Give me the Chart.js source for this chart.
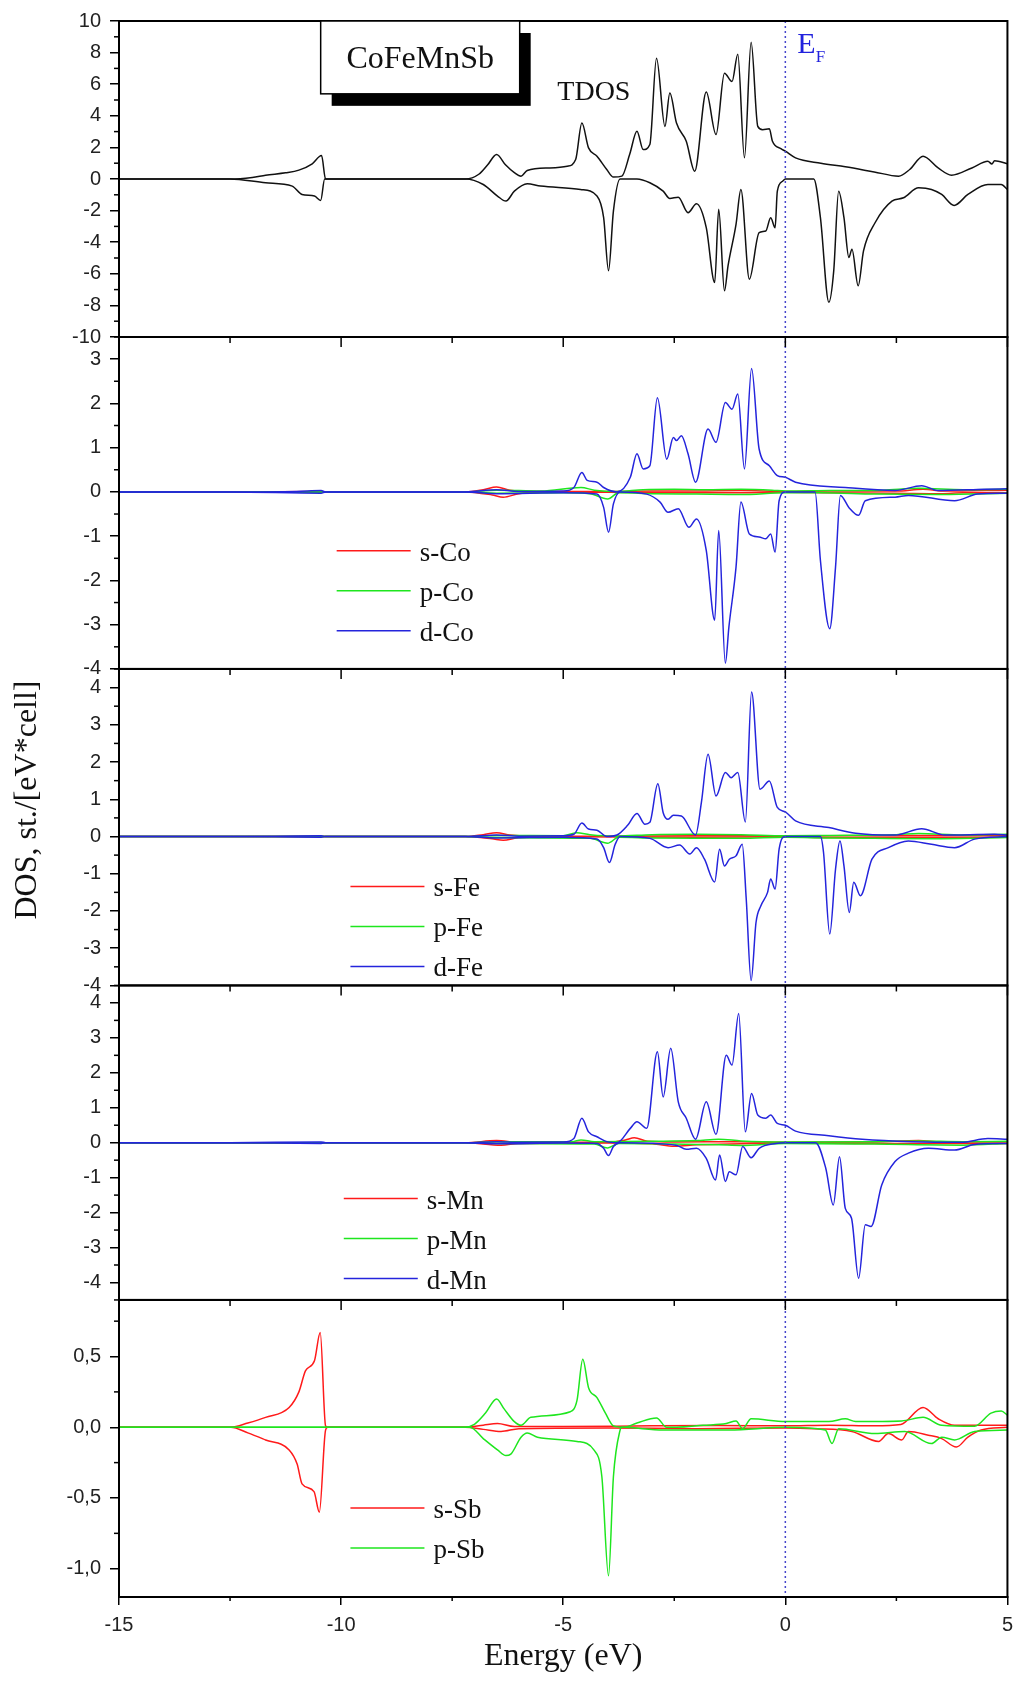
<!DOCTYPE html>
<html>
<head>
<meta charset="utf-8">
<script src="https://cdn.jsdelivr.net/npm/chart.js@4.4.1/dist/chart.umd.min.js"></script>
<style>
  html, body { margin: 0; padding: 0; background: #fff; }
  #wrap { width: 1021px; height: 1682px; }
</style>
</head>
<body>
<div id="wrap"><canvas id="dosChart" width="1021" height="1682"></canvas></div>
<script>
// energy axis (eV)
const energyTicks = [-15, -10, -5, 0, 5];

// tick labels of the five panels
const tdosTicks = [10, 8, 6, 4, 2, 0, -2, -4, -6, -8, -10];
const coTicks = [3, 2, 1, 0, -1, -2, -3, -4];
const feTicks = [4, 3, 2, 1, 0, -1, -2, -3, -4];
const mnTicks = [4, 3, 2, 1, 0, -1, -2, -3, -4];
const sbTicks = [0.5, 0, -0.5, -1];

// legend entries
const coLegend = ['s-Co', 'p-Co', 'd-Co'];
const feLegend = ['s-Fe', 'p-Fe', 'd-Fe'];
const mnLegend = ['s-Mn', 'p-Mn', 'd-Mn'];
const sbLegend = ['s-Sb', 'p-Sb'];

// [energy, DOS]; spin up positive, spin down negative
const tdosUp = [[-15,0],[-12.5,0],[-12.0,0.1],[-11.7,0.24],[-11.25,0.39],[-10.95,0.56],[-10.65,0.96],[-10.44,1.48],[-10.35,0],[-7.2,0],[-6.9,0.3],[-6.7,0.9],[-6.5,1.55],[-6.3,0.9],[-6.1,0.4],[-5.95,0.18],[-5.81,0.54],[-5.3,0.7],[-4.91,0.81],[-4.72,1.23],[-4.58,3.54],[-4.43,1.97],[-4.24,1.44],[-4.02,0.6],[-3.87,0.12],[-3.68,0.18],[-3.5,1.6],[-3.34,3.02],[-3.2,1.86],[-3.05,2.18],[-2.9,7.64],[-2.71,3.33],[-2.6,5.44],[-2.45,3.54],[-2.23,2.39],[-2.04,0.49],[-1.78,5.5],[-1.56,2.81],[-1.37,6.7],[-1.2,6.17],[-1.07,7.9],[-0.92,1.34],[-0.77,8.65],[-0.62,3.33],[-0.51,3.12],[-0.36,3.18],[-0.29,2.39],[-0.1,1.92],[0,1.76],[0.23,1.34],[0.8,1.0],[1.35,0.77],[2.0,0.45],[2.55,0.18],[2.8,0.6],[3.1,1.44],[3.44,0.7],[3.74,0.24],[4.2,0.7],[4.56,1.12],[4.65,0.95],[4.71,1.16],[5.0,0.96]];
const tdosDn = [[-15,0],[-12.5,0],[-11.7,-0.24],[-11.1,-0.45],[-10.88,-0.98],[-10.6,-1.08],[-10.46,-1.36],[-10.37,0],[-7.2,0],[-6.8,-0.35],[-6.48,-1.08],[-6.29,-1.4],[-6.1,-0.77],[-5.81,-0.3],[-5.51,-0.45],[-4.61,-0.66],[-4.24,-1.08],[-4.09,-2.45],[-3.98,-5.8],[-3.87,-2.03],[-3.72,0],[-3.34,0],[-3.05,-0.24],[-2.75,-0.77],[-2.6,-1.23],[-2.41,-1.15],[-2.19,-2.13],[-2.0,-1.57],[-1.78,-3.08],[-1.59,-6.55],[-1.5,-1.92],[-1.37,-7.08],[-1.29,-5.5],[-1.11,-2.87],[-1.0,-0.66],[-0.81,-6.34],[-0.59,-3.4],[-0.44,-3.29],[-0.33,-2.45],[-0.23,-3.08],[-0.18,-0.77],[-0.06,-0.14],[0,0],[0.64,0],[0.79,-2.45],[0.98,-7.8],[1.09,-5.8],[1.2,-0.77],[1.32,-2.45],[1.43,-4.97],[1.5,-4.45],[1.64,-6.76],[1.76,-4.55],[2.02,-2.77],[2.4,-1.4],[2.66,-1.19],[3.0,-0.56],[3.29,-0.66],[3.52,-0.98],[3.8,-1.67],[4.11,-0.98],[4.56,-0.35],[4.86,-0.35],[5.0,-0.66]];

const sCoUp = [[-15,0],[-12.5,0],[-10.45,0.01],[-10.35,0],[-7.2,0],[-6.8,0.05],[-6.5,0.11],[-6.2,0.04],[-5.8,0.01],[-4,0.01],[-3,0.02],[-2,0.02],[-1,0.03],[0,0.01],[1,0.02],[2.5,0.02],[3.1,0.06],[3.6,0.02],[5,0.04]];
const sCoDn = [[-15,0],[-12.5,0],[-10.45,-0.01],[-10.35,0],[-7.2,0],[-6.6,-0.07],[-6.35,-0.12],[-6.0,-0.04],[-5.5,-0.01],[-4,-0.01],[-2,-0.02],[-1,-0.02],[0,-0.01],[1,-0.02],[2.5,-0.03],[3.5,-0.04],[4,-0.02],[5,-0.02]];
const pCoUp = [[-15,0],[-7.2,0],[-6.5,0.04],[-5.5,0.02],[-4.6,0.1],[-4.3,0.04],[-3.8,0.01],[-3.2,0.05],[-2.5,0.06],[-1.8,0.05],[-1,0.06],[-0.3,0.04],[0,0.02],[1,0.03],[2.2,0.04],[3,0.08],[4,0.05],[5,0.06]];
const pCoDn = [[-15,0],[-7.2,0],[-6.5,-0.03],[-5,-0.02],[-4.4,-0.04],[-4.0,-0.16],[-3.75,-0.02],[-3,-0.04],[-2,-0.05],[-1,-0.06],[0,-0.02],[0.8,-0.02],[2,-0.05],[3.5,-0.06],[5,-0.03]];
const dCoUp = [[-15,0],[-12.5,0],[-11,0.01],[-10.45,0.03],[-10.35,0],[-7.2,0],[-6.5,0.05],[-6,0.01],[-5.0,0.02],[-4.76,0.1],[-4.58,0.44],[-4.46,0.26],[-4.24,0.22],[-4.09,0.1],[-3.79,0],[-3.49,0.33],[-3.34,0.86],[-3.2,0.52],[-3.05,0.59],[-2.88,2.13],[-2.67,0.74],[-2.52,1.23],[-2.45,1.16],[-2.34,1.27],[-2.19,0.86],[-2.02,0.22],[-1.74,1.42],[-1.56,1.12],[-1.35,2.02],[-1.2,1.87],[-1.07,2.21],[-0.92,0.52],[-0.76,2.79],[-0.59,0.97],[-0.36,0.59],[-0.18,0.37],[0,0.33],[0.23,0.22],[1.35,0.1],[2.47,0.03],[3.07,0.14],[3.44,0.03],[4.5,0.06],[5.0,0.07]];
const dCoDn = [[-15,0],[-12.5,0],[-10.45,-0.03],[-10.35,0],[-7.2,0],[-6.5,-0.04],[-5,-0.02],[-4.24,-0.05],[-4.09,-0.35],[-3.98,-0.91],[-3.87,-0.27],[-3.72,0],[-3.12,-0.05],[-2.82,-0.23],[-2.64,-0.46],[-2.41,-0.38],[-2.17,-0.8],[-2.0,-0.61],[-1.78,-1.32],[-1.59,-2.9],[-1.5,-0.87],[-1.35,-3.87],[-1.27,-3.05],[-1.11,-1.7],[-1.0,-0.23],[-0.81,-0.95],[-0.59,-1.02],[-0.44,-1.06],[-0.33,-0.95],[-0.23,-1.36],[-0.14,-0.2],[0,0],[0.67,0],[0.79,-1.55],[1.0,-3.09],[1.13,-1.7],[1.24,-0.08],[1.43,-0.35],[1.65,-0.53],[1.8,-0.2],[2.47,-0.12],[2.77,-0.08],[3.81,-0.2],[4.33,-0.05],[5.0,-0.03]];

const sFeUp = [[-15,0],[-7.2,0],[-6.8,0.05],[-6.5,0.1],[-6.2,0.04],[-5.8,0.01],[-4,0.01],[-2,0.02],[-1,0.02],[0,0.01],[1,0.02],[3,0.03],[5,0.03]];
const sFeDn = [[-15,0],[-7.2,0],[-6.6,-0.06],[-6.35,-0.1],[-6.0,-0.03],[-5,-0.01],[-2,-0.02],[0,-0.01],[1,-0.03],[2,-0.02],[5,-0.02]];
const pFeUp = [[-15,0],[-7.2,0],[-6.5,0.03],[-5,0.02],[-4.7,0.1],[-4.4,0.05],[-3.8,0.01],[-3,0.05],[-2,0.06],[-1,0.05],[0,0.02],[1,0.03],[2.5,0.05],[3,0.08],[4,0.04],[5,0.06]];
const pFeDn = [[-15,0],[-7.2,0],[-6.5,-0.03],[-4.4,-0.05],[-4.0,-0.18],[-3.75,-0.02],[-3,-0.04],[-2,-0.05],[-1,-0.05],[0,-0.02],[1,-0.04],[2,-0.05],[3.5,-0.06],[5,-0.03]];
const dFeUp = [[-15,0],[-12.5,0],[-10.45,0.02],[-10.35,0],[-7.2,0],[-6.5,0.04],[-6,0.01],[-5,0.02],[-4.76,0.06],[-4.58,0.36],[-4.43,0.2],[-4.24,0.17],[-4.02,0],[-3.79,0.04],[-3.55,0.3],[-3.34,0.62],[-3.16,0.33],[-3.05,0.38],[-2.87,1.42],[-2.75,0.64],[-2.64,0.46],[-2.52,0.57],[-2.34,0.55],[-2.02,0.04],[-1.89,0.91],[-1.74,2.21],[-1.56,1.09],[-1.35,1.72],[-1.22,1.58],[-1.07,1.72],[-0.9,0.39],[-0.76,3.88],[-0.57,1.27],[-0.36,1.49],[-0.18,0.78],[0,0.66],[0.23,0.42],[0.98,0.24],[1.58,0.09],[2.47,0.04],[3.07,0.21],[3.59,0.04],[4.71,0.06],[5.0,0.04]];
const dFeDn = [[-15,0],[-12.5,0],[-10.45,-0.02],[-10.35,0],[-7.2,0],[-6.5,-0.04],[-5,-0.02],[-4.24,-0.07],[-4.09,-0.3],[-3.96,-0.7],[-3.83,-0.21],[-3.72,0],[-3.05,-0.05],[-2.64,-0.3],[-2.38,-0.23],[-2.15,-0.47],[-2.0,-0.3],[-1.82,-0.61],[-1.59,-1.22],[-1.48,-0.34],[-1.37,-0.79],[-1.26,-0.61],[-1.11,-0.52],[-0.97,-0.21],[-0.88,-1.68],[-0.77,-3.87],[-0.66,-2.31],[-0.55,-1.86],[-0.4,-1.5],[-0.33,-1.14],[-0.23,-1.41],[-0.14,-0.34],[0,0],[0.79,0],[0.86,-0.43],[1.0,-2.62],[1.13,-0.88],[1.23,-0.12],[1.32,-0.79],[1.44,-2.04],[1.54,-1.23],[1.69,-1.59],[1.95,-0.61],[2.32,-0.3],[2.77,-0.12],[3.29,-0.21],[3.81,-0.3],[4.26,-0.07],[5.0,0]];

const sMnUp = [[-15,0],[-7.2,0],[-6.5,0.06],[-6.0,0.01],[-4,0.01],[-3.6,0.08],[-3.4,0.14],[-3.1,0.04],[-2.5,0.02],[-1,0.03],[0,0.01],[2,0.02],[3,0.06],[3.5,0.02],[5,0.02]];
const sMnDn = [[-15,0],[-7.2,0],[-6.4,-0.07],[-6.0,-0.02],[-4,-0.01],[-3,-0.03],[-2.5,-0.1],[-2,-0.06],[-1,-0.03],[0,-0.01],[2,-0.02],[5,-0.02]];
const pMnUp = [[-15,0],[-7.2,0],[-6.5,0.03],[-4.8,0.03],[-4.6,0.08],[-4.3,0.03],[-3,0.04],[-2,0.06],[-1.5,0.1],[-1,0.05],[0,0.02],[2,0.03],[3,0.05],[4,0.03],[5,0.04]];
const pMnDn = [[-15,0],[-7.2,0],[-6.5,-0.02],[-4.3,-0.04],[-4.0,-0.15],[-3.75,-0.02],[-2.5,-0.04],[-1.5,-0.06],[-1,-0.08],[0,-0.02],[2,-0.04],[4,-0.07],[5,-0.02]];
const dMnUp = [[-15,0],[-12.5,0],[-10.45,0.02],[-10.35,0],[-7.2,0],[-6.5,0.03],[-6,0.01],[-5,0.02],[-4.76,0.12],[-4.58,0.7],[-4.43,0.31],[-4.24,0.17],[-4.02,0.03],[-3.79,0],[-3.49,0.41],[-3.34,0.6],[-3.12,0.41],[-2.88,2.6],[-2.75,1.31],[-2.58,2.7],[-2.41,1.17],[-2.23,0.7],[-2.02,0.1],[-1.78,1.17],[-1.56,0.24],[-1.33,2.5],[-1.2,2.22],[-1.05,3.7],[-0.9,0.31],[-0.76,1.41],[-0.62,0.79],[-0.44,0.7],[-0.33,0.79],[-0.18,0.55],[0,0.5],[0.23,0.33],[0.98,0.2],[1.73,0.1],[2.84,0.03],[3.96,0.01],[4.56,0.12],[5.0,0.1]];
const dMnDn = [[-15,0],[-12.5,0],[-10.45,-0.02],[-10.35,0],[-7.2,0],[-6.5,-0.03],[-5,-0.01],[-4.24,-0.02],[-4.09,-0.16],[-3.98,-0.37],[-3.87,-0.11],[-3.72,0],[-2.46,-0.07],[-2.23,-0.19],[-2.0,-0.16],[-1.78,-0.45],[-1.57,-1.07],[-1.48,-0.35],[-1.35,-1.11],[-1.26,-0.83],[-1.11,-0.92],[-0.96,-0.11],[-0.77,-0.43],[-0.59,-0.16],[-0.21,-0.02],[0,0],[0.68,0],[0.91,-0.73],[1.08,-1.78],[1.22,-0.4],[1.35,-1.88],[1.49,-2.16],[1.65,-3.88],[1.8,-2.35],[1.93,-2.4],[2.17,-1.21],[2.47,-0.54],[2.77,-0.3],[3.22,-0.16],[3.81,-0.21],[4.26,-0.05],[5.0,-0.02]];

const sSbUp = [[-15,0],[-12.48,0],[-12.1,0.03],[-11.7,0.07],[-11.17,0.14],[-10.95,0.25],[-10.8,0.4],[-10.6,0.47],[-10.47,0.67],[-10.35,0.01],[-10.3,0],[-7.2,0],[-6.8,0.015],[-6.48,0.026],[-6.1,0.005],[-5,0.005],[-3,0.01],[-1.5,0.012],[0,0.01],[1,0.015],[2,0.01],[2.6,0.02],[3.1,0.14],[3.44,0.06],[3.81,0.014],[5,0.014]];
const sSbDn = [[-15,0],[-12.48,0],[-12.1,-0.04],[-11.7,-0.09],[-11.17,-0.16],[-10.99,-0.26],[-10.88,-0.4],[-10.61,-0.455],[-10.49,-0.6],[-10.35,-0.02],[-10.3,0],[-7.2,0],[-6.8,-0.015],[-6.4,-0.03],[-6.0,-0.01],[-4,-0.005],[-2,-0.01],[0,-0.005],[0.66,-0.01],[1.5,-0.03],[2.1,-0.1],[2.32,-0.045],[2.62,-0.09],[2.77,-0.03],[3.22,-0.056],[3.52,-0.08],[3.85,-0.14],[4.11,-0.07],[4.41,-0.02],[5,0]];
const pSbUp = [[-15,0],[-7.22,0],[-7.0,0.02],[-6.75,0.1],[-6.5,0.2],[-6.33,0.13],[-6.1,0.04],[-5.95,0.014],[-5.73,0.07],[-4.84,0.11],[-4.69,0.19],[-4.56,0.48],[-4.43,0.28],[-4.24,0.21],[-4.05,0.1],[-3.87,0.01],[-3.64,0],[-3.34,0.03],[-2.9,0.066],[-2.67,0.0],[-2.45,0.0],[-1.85,0.014],[-1.33,0.026],[-1.11,0.045],[-0.96,-0.01],[-0.77,0.06],[0,0.04],[0.98,0.04],[1.35,0.06],[1.58,0.04],[2.62,0.045],[3.1,0.07],[3.52,0.014],[4.26,0.007],[4.63,0.1],[4.86,0.115],[5,0.085]];
const pSbDn = [[-15,0],[-7.1,0],[-6.8,-0.08],[-6.48,-0.16],[-6.29,-0.2],[-6.18,-0.19],[-5.95,-0.07],[-5.81,-0.04],[-5.58,-0.07],[-4.69,-0.1],[-4.31,-0.16],[-4.13,-0.35],[-3.98,-1.05],[-3.87,-0.35],[-3.72,-0.02],[-3.68,0],[-2.75,-0.02],[-1.26,-0.02],[0,0],[0.9,-0.02],[1.05,-0.115],[1.2,-0.01],[2.02,-0.045],[2.69,-0.03],[3.29,-0.115],[3.52,-0.07],[3.81,-0.09],[4.26,-0.03],[5,-0.02]];

const orbitalColors = { s: '#ff1a1a', p: '#1ee61e', d: '#2424dc', t: '#111111' };

// the five stacked panels, top to bottom
const panels = [
  { id: 'y1', min: -10, max: 10, ticks: tdosTicks, minor: 1, h: 317, legend: [] },
  { id: 'y2', min: -4, max: 3.5, ticks: coTicks, minor: 0.5, h: 333, legend: coLegend, at: [-10.1, -1.33] },
  { id: 'y3', min: -4, max: 4.5, ticks: feTicks, minor: 0.5, h: 317.5, legend: feLegend, at: [-9.79, -1.34] },
  { id: 'y4', min: -4.5, max: 4.5, ticks: mnTicks, minor: 0.5, h: 315.5, legend: mnLegend, at: [-9.94, -1.6] },
  { id: 'y5', min: -1.2, max: 0.9, ticks: sbTicks, minor: 0.25, h: 298, legend: sbLegend, at: [-9.79, -0.57] }
];

function series(label, pairs, axis) {
  const c = label === 'TDOS' ? orbitalColors.t : orbitalColors[label[0]];
  return {
    label: label,
    data: pairs.map(([x, y]) => ({ x: x, y: y })),
    yAxisID: axis,
    borderColor: c,
    borderWidth: 1.5,
    pointRadius: 0,
    fill: false,
    cubicInterpolationMode: 'monotone'
  };
}

// first dataset is drawn last, so d lies over p over s
const datasets = [
  series('TDOS', tdosUp, 'y1'), series('TDOS', tdosDn, 'y1'),
  series('d-Co', dCoUp, 'y2'), series('d-Co', dCoDn, 'y2'),
  series('p-Co', pCoUp, 'y2'), series('p-Co', pCoDn, 'y2'),
  series('s-Co', sCoUp, 'y2'), series('s-Co', sCoDn, 'y2'),
  series('d-Fe', dFeUp, 'y3'), series('d-Fe', dFeDn, 'y3'),
  series('p-Fe', pFeUp, 'y3'), series('p-Fe', pFeDn, 'y3'),
  series('s-Fe', sFeUp, 'y3'), series('s-Fe', sFeDn, 'y3'),
  series('d-Mn', dMnUp, 'y4'), series('d-Mn', dMnDn, 'y4'),
  series('p-Mn', pMnUp, 'y4'), series('p-Mn', pMnDn, 'y4'),
  series('s-Mn', sMnUp, 'y4'), series('s-Mn', sMnDn, 'y4'),
  series('p-Sb', pSbUp, 'y5'), series('p-Sb', pSbDn, 'y5'),
  series('s-Sb', sSbUp, 'y5'), series('s-Sb', sSbDn, 'y5')
];

const tickFont = { family: 'Liberation Sans', size: 20 };
const serif = 'Liberation Serif';

const scales = {
  x: {
    type: 'linear',
    position: 'bottom',
    min: -15,
    max: 5,
    afterBuildTicks: (axis) => { axis.ticks = energyTicks.map(v => ({ value: v })); },
    afterFit: (axis) => { axis.height = 85; },
    grid: { drawOnChartArea: false, color: '#000', lineWidth: 1.5, tickLength: 8 },
    border: { color: '#000', width: 2 },
    ticks: { font: tickFont, color: '#222', padding: 8, maxRotation: 0, autoSkip: false },
    title: {
      display: true,
      text: 'Energy (eV)',
      font: { family: serif, size: 32 },
      color: '#111',
      padding: { top: 0, bottom: 6 }
    }
  }
};

panels.forEach((p, i) => {
  scales[p.id] = {
    type: 'linear',
    position: 'left',
    stack: 'dos',
    stackWeight: p.h,
    weight: panels.length - i,
    min: p.min,
    max: p.max,
    afterBuildTicks: (axis) => { axis.ticks = p.ticks.map(v => ({ value: v })); },
    afterFit: (axis) => { axis.width = 119; },
    grid: { drawOnChartArea: false, color: '#000', lineWidth: 1.5, tickLength: 9 },
    border: { color: '#000', width: 2 },
    ticks: {
      autoSkip: false,
      font: tickFont,
      color: '#222',
      padding: 9,
      callback: (v) => p.id === 'y5' ? v.toFixed(1).replace('.', ',') : String(v)
    }
  };
});

function line(ctx, x0, y0, x1, y1) {
  ctx.beginPath();
  ctx.moveTo(x0, y0);
  ctx.lineTo(x1, y1);
  ctx.stroke();
}

// frames, minor ticks, Fermi level, labels and the per-panel legends
const panelDecor = {
  id: 'panelDecor',
  afterDraw(chart) {
    const { ctx, chartArea, scales: sc } = chart;
    const xs = sc.x;
    const left = chartArea.left;
    const right = chartArea.right;
    ctx.save();

    // Fermi level
    const xf = xs.getPixelForValue(0);
    ctx.strokeStyle = '#4646cc';
    ctx.lineWidth = 1.5;
    ctx.setLineDash([2, 3]);
    line(ctx, xf, chartArea.top, xf, chartArea.bottom);
    ctx.setLineDash([]);

    ctx.strokeStyle = '#000';
    ctx.lineWidth = 2;
    panels.forEach((p) => {
      const ys = sc[p.id];
      ctx.strokeRect(left, ys.top, right - left, ys.bottom - ys.top);
    });

    // minor y ticks
    ctx.lineWidth = 1.5;
    panels.forEach((p) => {
      const ys = sc[p.id];
      const n0 = Math.ceil(p.min / p.minor - 1e-9);
      const n1 = Math.floor(p.max / p.minor + 1e-9);
      for (let n = n0; n <= n1; n++) {
        const v = n * p.minor;
        if (p.ticks.some(t => Math.abs(t - v) < 1e-9)) continue;
        const y = ys.getPixelForValue(v);
        line(ctx, left - 5, y, left, y);
      }
    });

    // energy ticks on the inner borders, minor ticks on the bottom axis
    for (let e = -15; e <= 5; e += 2.5) {
      const x = xs.getPixelForValue(e);
      const major = e % 5 === 0;
      panels.forEach((p, i) => {
        if (i === 0) return;
        const y = sc[p.id].top;
        line(ctx, x, y, x, y + (major ? 10 : 6));
      });
      if (!major) {
        const yb = sc.y5.bottom;
        line(ctx, x, yb, x, yb + 4);
      }
    }

    // compound label box with its shadow
    const y1 = sc.y1;
    const bx0 = xs.getPixelForValue(-10.46);
    const bx1 = xs.getPixelForValue(-5.98);
    const by0 = y1.getPixelForValue(10);
    const by1 = y1.getPixelForValue(5.39);
    ctx.fillStyle = '#000';
    ctx.fillRect(bx0 + 11, by0 + 12, bx1 - bx0, by1 - by0);
    ctx.fillStyle = '#fff';
    ctx.fillRect(bx0, by0, bx1 - bx0, by1 - by0);
    ctx.lineWidth = 1.5;
    ctx.strokeRect(bx0, by0, bx1 - bx0, by1 - by0);
    ctx.fillStyle = '#111';
    ctx.font = '32px "' + serif + '"';
    ctx.textAlign = 'center';
    ctx.textBaseline = 'alphabetic';
    ctx.fillText('CoFeMnSb', (bx0 + bx1) / 2, by0 + 47);

    ctx.font = '28px "' + serif + '"';
    ctx.fillText('TDOS', xs.getPixelForValue(-4.31), y1.getPixelForValue(5.0));

    // E_F
    ctx.fillStyle = '#2222dd';
    ctx.textAlign = 'left';
    ctx.font = '30px "' + serif + '"';
    const ex = xs.getPixelForValue(0.27);
    const ey = y1.getPixelForValue(7.98);
    ctx.fillText('E', ex, ey);
    const ew = ctx.measureText('E').width;
    ctx.font = '17px "' + serif + '"';
    ctx.fillText('F', ex + ew, ey + 9);

    // legends
    ctx.font = '27px "' + serif + '"';
    ctx.lineWidth = 1.5;
    panels.forEach((p) => {
      if (!p.legend.length) return;
      const lx = xs.getPixelForValue(p.at[0]);
      const ly = sc[p.id].getPixelForValue(p.at[1]);
      p.legend.forEach((name, k) => {
        const y = ly + k * 40;
        ctx.strokeStyle = orbitalColors[name[0]];
        line(ctx, lx, y, lx + 74, y);
        ctx.fillStyle = '#111';
        ctx.fillText(name, lx + 83, y + 10);
      });
    });

    // y axis title, centred on the whole stack
    ctx.fillStyle = '#111';
    ctx.font = '32px "' + serif + '"';
    ctx.textAlign = 'center';
    ctx.textBaseline = 'middle';
    ctx.translate(left - 91, (chartArea.top + chartArea.bottom) / 2 - 9);
    ctx.rotate(-Math.PI / 2);
    ctx.fillText('DOS, st./[eV*cell]', 0, 0);
    ctx.restore();
  }
};

const ctx = document.getElementById('dosChart').getContext('2d');
const dosChart = new Chart(ctx, {
  type: 'line',
  data: { datasets: datasets },
  options: {
    responsive: false,
    animation: false,
    layout: { padding: { top: 16, right: 8, bottom: 0, left: 0 } },
    plugins: {
      legend: { display: false },
      tooltip: { enabled: false }
    },
    scales: scales
  },
  plugins: [panelDecor]
});
</script>
</body>
</html>
